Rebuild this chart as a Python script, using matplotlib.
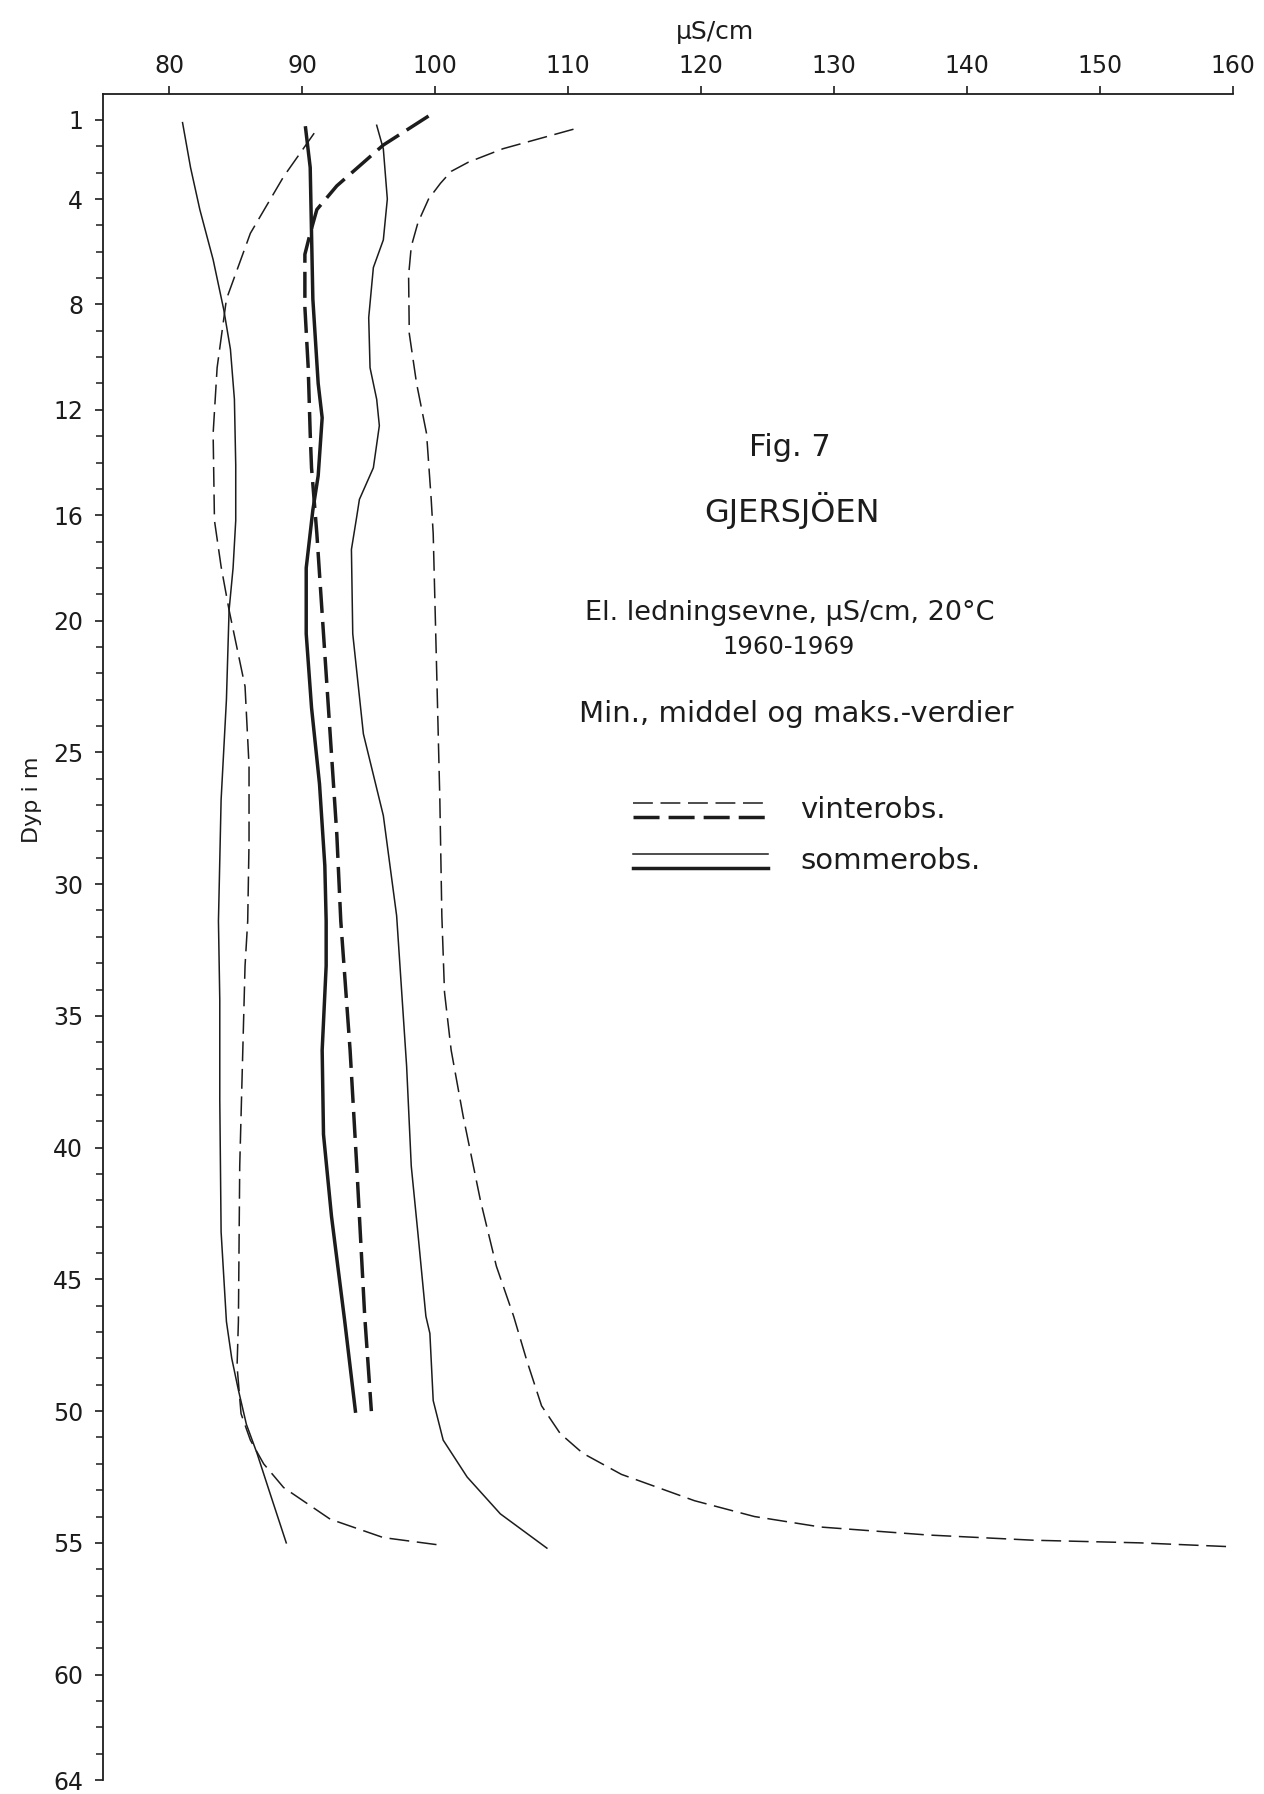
import matplotlib
matplotlib.use("Agg")
import matplotlib.pyplot as plt
from matplotlib.lines import Line2D

# Gjersjoen, el. ledningsevne (uS/cm, 20 C) mot dyp (m), 1960-1969
# vinterobs. = stiplet, sommerobs. = heltrukket; tynn = min/maks, tykk = middel

vinter_min_dyp = [1.5, 3.15, 5.3, 7.8, 10.4, 12.9, 16.2, 17.95, 19.6, 22.5, 25.5, 28.4, 31.4,
                  33.1, 36.9, 40.7, 46.6, 48.3, 50.1, 51.1, 52.0, 52.9, 54.1, 54.8, 55.1]
vinter_min = [90.9, 88.6, 86.1, 84.3, 83.6, 83.3, 83.4, 83.9, 84.5, 85.7, 86.0, 86.0, 85.9,
              85.7, 85.5, 85.3, 85.2, 85.1, 85.4, 86.1, 87.1, 88.6, 92.1, 96.1, 100.6]

vinter_mid_dyp = [0.85, 1.95, 3.5, 4.4, 5.3, 6.1, 8.1, 10.4, 12.9, 14.2, 16.7, 20.5, 24.3,
                  28.1, 31.4, 36.3, 40.7, 46.4, 50.0]
vinter_mid = [99.5, 96.1, 92.6, 91.1, 90.6, 90.2, 90.2, 90.45, 90.6, 90.7, 91.1, 91.6, 92.1,
              92.6, 92.9, 93.6, 94.1, 94.7, 95.2]

vinter_maks_dyp = [1.35, 2.09, 2.6, 2.95, 3.4, 4.0, 4.9, 5.8, 6.9, 9.1, 11.0, 12.9, 15.4, 16.7,
                   21.7, 26.8, 31.2, 34.1, 36.3, 38.8, 42.0, 44.5, 46.4, 48.1, 49.8, 50.85,
                   51.6, 52.4, 53.4, 54.0, 54.4, 54.7, 54.9, 55.0, 55.15]
vinter_maks = [110.4, 105.1, 102.5, 101.2, 100.4, 99.5, 98.7, 98.2, 98.0, 98.05, 98.6, 99.35,
               99.7, 99.85, 100.1, 100.35, 100.5, 100.7, 101.2, 102.1, 103.4, 104.6, 105.9,
               106.9, 108.0, 109.4, 111.1, 114.0, 119.5, 124.0, 129.0, 137.0, 145.0, 153.0,
               160.0]

sommer_min_dyp = [1.1, 2.8, 4.4, 6.3, 8.2, 9.7, 11.6, 14.1, 16.2, 18.0, 19.6, 23.0, 26.8,
                  31.4, 34.4, 38.2, 43.2, 46.6, 48.0, 49.2, 50.5, 51.6, 53.0, 55.0]
sommer_min = [81.0, 81.6, 82.3, 83.3, 84.1, 84.6, 84.9, 85.0, 85.0, 84.8, 84.5, 84.3, 83.9,
              83.7, 83.8, 83.8, 83.9, 84.3, 84.7, 85.2, 85.8, 86.6, 87.5, 88.8]

sommer_mid_dyp = [1.3, 2.8, 5.3, 7.8, 11.0, 12.3, 14.5, 15.8, 18.0, 20.5, 23.3, 26.2, 29.3,
                  31.4, 33.1, 36.3, 39.5, 42.6, 46.6, 50.0]
sommer_mid = [90.25, 90.6, 90.7, 90.8, 91.2, 91.5, 91.2, 90.8, 90.3, 90.3, 90.7, 91.3, 91.7,
              91.8, 91.8, 91.5, 91.6, 92.2, 93.2, 94.0]

sommer_maks_dyp = [1.2, 2.1, 4.0, 5.55, 6.6, 8.5, 10.4, 11.6, 12.6, 14.2, 15.4, 16.05, 17.3,
                   20.5, 24.3, 27.4, 31.2, 36.9, 40.7, 43.25, 46.4, 47.05, 49.6, 51.1, 52.5,
                   53.9, 55.2]
sommer_maks = [95.6, 96.1, 96.4, 96.1, 95.35, 95.0, 95.1, 95.6, 95.8, 95.35, 94.3, 94.1, 93.7,
               93.8, 94.6, 96.1, 97.1, 97.85, 98.2, 98.7, 99.3, 99.6, 99.85, 100.6, 102.4,
               104.9, 108.4]

x_ticks = [80, 90, 100, 110, 120, 130, 140, 150, 160]
y_ticks = [1, 4, 8, 12, 16, 20, 25, 30, 35, 40, 45, 50, 55, 60, 64]

ink = "#1c1c1c"
tynn = 1.1
tykk = 2.5
stipl_tynn = (0, (13, 5))
stipl_tykk = (0, (7.5, 2.6))

plt.rcParams["font.family"] = ["DejaVu Sans"]

fig = plt.figure(figsize=(12.64, 17.94), dpi=100)
ax = fig.add_axes([0.0813, 0.0078, 0.8942, 0.94])

ax.plot(vinter_min, vinter_min_dyp, color=ink, lw=tynn, ls=stipl_tynn)
ax.plot(vinter_maks, vinter_maks_dyp, color=ink, lw=tynn, ls=stipl_tynn)
ax.plot(vinter_mid, vinter_mid_dyp, color=ink, lw=tykk, ls=stipl_tykk)
ax.plot(sommer_min, sommer_min_dyp, color=ink, lw=tynn)
ax.plot(sommer_maks, sommer_maks_dyp, color=ink, lw=tynn)
ax.plot(sommer_mid, sommer_mid_dyp, color=ink, lw=tykk)

ax.set_xlim(75, 160)
ax.set_ylim(64, 0)
ax.spines["right"].set_visible(False)
ax.spines["bottom"].set_visible(False)
for s in ("top", "left"):
    ax.spines[s].set_linewidth(1.3)
    ax.spines[s].set_color(ink)

ax.xaxis.tick_top()
ax.set_xticks(x_ticks)
ax.set_xticklabels([str(v) for v in x_ticks])
ax.set_yticks(y_ticks)
ax.set_yticklabels([str(v) for v in y_ticks])
ax.set_yticks([v for v in range(1, 65) if v not in y_ticks], minor=True)
ax.tick_params(axis="x", which="major", direction="out", length=6, width=1.2,
               labelsize=17, pad=5, colors=ink)
ax.tick_params(axis="y", which="major", direction="out", length=6, width=1.2,
               labelsize=17, pad=8, colors=ink)
ax.tick_params(axis="y", which="minor", direction="out", length=5, width=1.1, colors=ink)

fig.text(0.5657, 0.982, "µS/cm", ha="center", va="center", fontsize=18, color=ink)
fig.text(0.0253, 0.554, "Dyp i m", ha="center", va="center", rotation=90, fontsize=16,
         color=ink)

fig.text(0.625, 0.7503, "Fig. 7", ha="center", va="center", fontsize=22, color=ink)
fig.text(0.6266, 0.7152, "GJERSJÖEN", ha="center", va="center", fontsize=23, color=ink)
fig.text(0.625, 0.6585, "El. ledningsevne, µS/cm, 20°C", ha="center", va="center",
         fontsize=19.5, color=ink)
fig.text(0.6242, 0.6395, "1960-1969", ha="center", va="center", fontsize=17.5, color=ink)
fig.text(0.6297, 0.602, "Min., middel og maks.-verdier", ha="center", va="center",
         fontsize=21, color=ink)

# forklaring, tegnet for hand som i originalen
lx = [0.5008, 0.6076]
fig.add_artist(Line2D(lx, [0.5524, 0.5524], color=ink, lw=tynn, ls=stipl_tynn))
fig.add_artist(Line2D(lx, [0.5446, 0.5446], color=ink, lw=tykk, ls=stipl_tykk))
fig.add_artist(Line2D(lx, [0.5240, 0.5240], color=ink, lw=tynn))
fig.add_artist(Line2D(lx, [0.5162, 0.5162], color=ink, lw=tykk))
fig.text(0.6329, 0.5485, "vinterobs.", ha="left", va="center", fontsize=21, color=ink)
fig.text(0.6329, 0.5201, "sommerobs.", ha="left", va="center", fontsize=21, color=ink)

fig.savefig("out.png", dpi=100, facecolor="white")
